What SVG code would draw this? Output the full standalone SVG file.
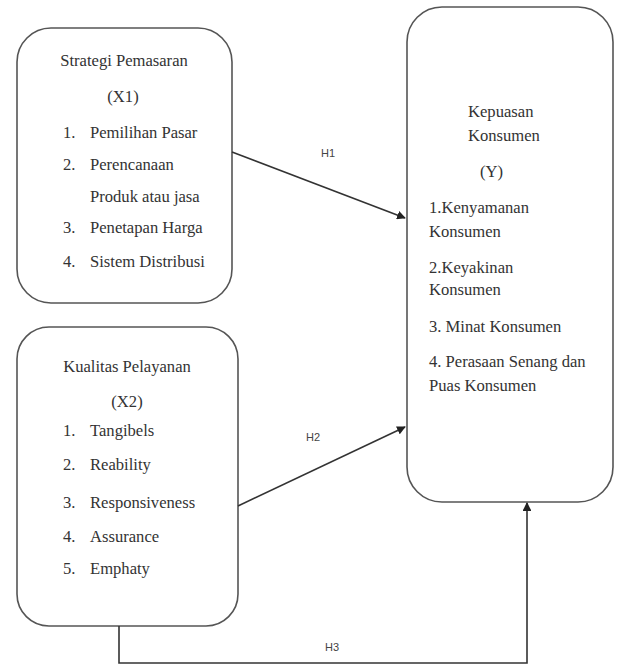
<svg xmlns="http://www.w3.org/2000/svg" width="618" height="664" viewBox="0 0 618 664">
<style>
.box{fill:#fff;stroke:#555;stroke-width:1.6}
.t{font-family:"Liberation Serif","Times New Roman",serif;font-size:16.6px;fill:#333}
.c{text-anchor:middle}
.lbl{font-family:"Liberation Sans",Arial,sans-serif;font-size:11px;fill:#444;text-anchor:middle}
.ln{fill:none;stroke:#333;stroke-width:1.6}
</style>
<defs>
<marker id="ah" viewBox="0 0 10 10" refX="9" refY="5" markerWidth="5.5" markerHeight="5.5" orient="auto" markerUnits="strokeWidth">
<path d="M0,0 L10,5 L0,10 z" fill="#222"/>
</marker>
</defs>
<rect width="618" height="664" fill="#fff"/>
<g id="x1">
<rect class="box" x="17" y="28" width="215" height="275" rx="34"/>
<text class="t c" x="124" y="66">Strategi Pemasaran</text>
<text class="t c" x="123" y="102">(X1)</text>
<text class="t" x="63" y="138">1.</text><text class="t" x="90" y="138">Pemilihan Pasar</text>
<text class="t" x="63" y="170">2.</text><text class="t" x="90" y="170">Perencanaan</text>
<text class="t" x="90" y="202">Produk atau jasa</text>
<text class="t" x="63" y="233">3.</text><text class="t" x="90" y="233">Penetapan Harga</text>
<text class="t" x="63" y="267">4.</text><text class="t" x="90" y="267">Sistem Distribusi</text>
</g>
<g id="x2">
<rect class="box" x="17" y="327" width="221" height="299" rx="32"/>
<text class="t c" x="127" y="372">Kualitas Pelayanan</text>
<text class="t c" x="127" y="407">(X2)</text>
<text class="t" x="63" y="436">1.</text><text class="t" x="90" y="436">Tangibels</text>
<text class="t" x="63" y="470">2.</text><text class="t" x="90" y="470">Reability</text>
<text class="t" x="63" y="508">3.</text><text class="t" x="90" y="508">Responsiveness</text>
<text class="t" x="63" y="542">4.</text><text class="t" x="90" y="542">Assurance</text>
<text class="t" x="63" y="574">5.</text><text class="t" x="90" y="574">Emphaty</text>
</g>
<g id="y">
<rect class="box" x="407" y="7" width="206" height="495" rx="35"/>
<text class="t" x="468" y="117">Kepuasan</text>
<text class="t" x="468" y="141">Konsumen</text>
<text class="t" x="480" y="177">(Y)</text>
<text class="t" x="429" y="213">1.Kenyamanan</text>
<text class="t" x="429" y="237">Konsumen</text>
<text class="t" x="429" y="273">2.Keyakinan</text>
<text class="t" x="429" y="295">Konsumen</text>
<text class="t" x="429" y="332">3. Minat Konsumen</text>
<text class="t" x="429" y="367">4. Perasaan Senang dan</text>
<text class="t" x="429" y="391">Puas Konsumen</text>
</g>
<g id="connectors">
<line class="ln" x1="232" y1="152" x2="405" y2="218" marker-end="url(#ah)"/>
<line class="ln" x1="238" y1="506" x2="405" y2="427" marker-end="url(#ah)"/>
<polyline class="ln" points="119,626 119,663 527,663 527,503" marker-end="url(#ah)"/>
<text class="lbl" x="328" y="157">H1</text>
<text class="lbl" x="313" y="441">H2</text>
<text class="lbl" x="332" y="651">H3</text>
</g>
</svg>
